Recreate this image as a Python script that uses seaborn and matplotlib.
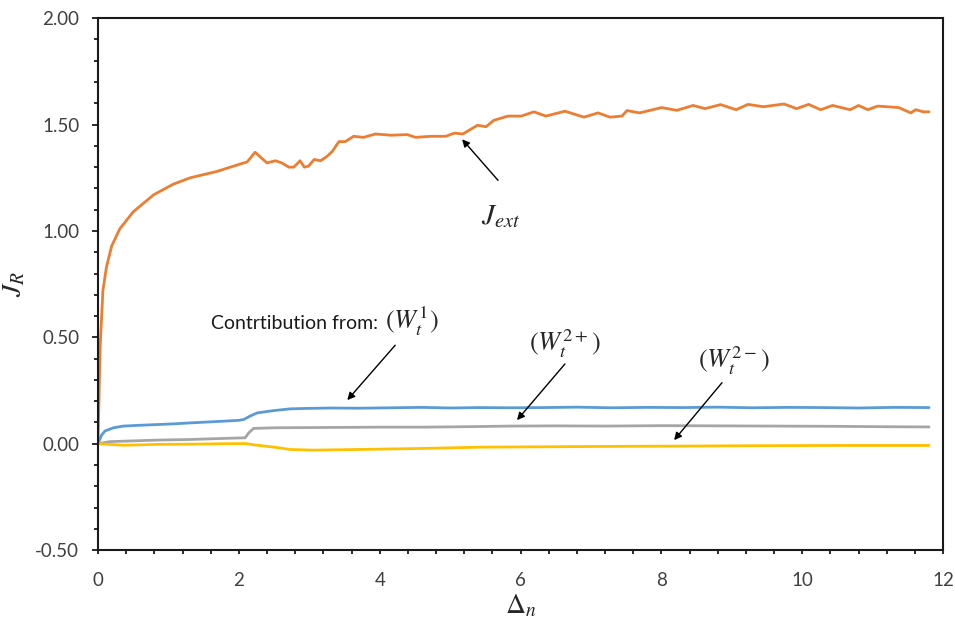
import matplotlib
matplotlib.use("Agg")
import matplotlib.pyplot as plt
import seaborn as sns
import pandas as pd
from matplotlib.ticker import MultipleLocator, FormatStrFormatter

# ---------------- data ----------------
jext_x = [0, 0.03, 0.07, 0.12, 0.195, 0.31, 0.50, 0.79, 1.07, 1.31,
          1.69, 1.88, 2.12, 2.23, 2.40, 2.52, 2.61, 2.71, 2.78, 2.87,
          2.93, 2.99, 3.07, 3.16, 3.25, 3.33, 3.42, 3.51, 3.63, 3.77,
          3.94, 4.16, 4.39, 4.51, 4.73, 4.94, 5.06, 5.18, 5.39, 5.51,
          5.62, 5.82, 6.01, 6.19, 6.36, 6.63, 6.90, 7.10, 7.27, 7.44,
          7.51, 7.69, 8.00, 8.22, 8.45, 8.62, 8.84, 9.06, 9.23, 9.45,
          9.74, 9.92, 10.09, 10.26, 10.43, 10.68, 10.80, 10.93, 11.07, 11.37,
          11.54, 11.61, 11.72, 11.80]
jext_y = [0, 0.45, 0.72, 0.83, 0.93, 1.01, 1.09, 1.17, 1.22, 1.25,
          1.28, 1.30, 1.325, 1.37, 1.32, 1.33, 1.32, 1.30, 1.30, 1.33,
          1.30, 1.305, 1.336, 1.33, 1.35, 1.375, 1.42, 1.42, 1.445, 1.44,
          1.456, 1.45, 1.453, 1.44, 1.445, 1.445, 1.46, 1.456, 1.497, 1.49,
          1.52, 1.54, 1.54, 1.56, 1.54, 1.563, 1.535, 1.555, 1.535, 1.54,
          1.566, 1.555, 1.58, 1.567, 1.59, 1.575, 1.594, 1.57, 1.595, 1.584,
          1.597, 1.575, 1.595, 1.57, 1.59, 1.57, 1.59, 1.57, 1.587, 1.58,
          1.555, 1.57, 1.56, 1.56]

w1_x = [0, 0.05, 0.1, 0.22, 0.36, 0.6, 0.83, 1.1, 1.31, 1.55,
        1.78, 2.0, 2.07, 2.16, 2.26, 2.5, 2.73, 2.97, 3.3, 3.7,
        4.16, 4.6, 5.0, 5.4, 5.86, 6.3, 6.8, 7.3, 7.8, 8.3,
        8.8, 9.3, 9.8, 10.3, 10.8, 11.3, 11.8]
w1_y = [0, 0.04, 0.06, 0.075, 0.083, 0.087, 0.09, 0.094, 0.098, 0.102,
        0.106, 0.11, 0.114, 0.13, 0.145, 0.156, 0.164, 0.166, 0.168, 0.167,
        0.169, 0.171, 0.168, 0.170, 0.169, 0.170, 0.172, 0.169, 0.171, 0.170,
        0.172, 0.169, 0.171, 0.170, 0.168, 0.171, 0.170]

w2p_x = [0, 0.17, 0.36, 0.83, 1.31, 1.78, 2.09, 2.14, 2.21, 2.5,
         3.0, 3.5, 4.0, 4.63, 5.2, 5.86, 6.5, 7.2, 8.0, 8.8,
         9.6, 10.4, 11.2, 11.8]
w2p_y = [0, 0.01, 0.012, 0.017, 0.02, 0.025, 0.028, 0.051, 0.072, 0.075,
         0.076, 0.077, 0.078, 0.078, 0.080, 0.083, 0.084, 0.083, 0.085, 0.084,
         0.083, 0.082, 0.080, 0.079]

w2m_x = [0, 0.36, 0.83, 1.3, 1.78, 2.09, 2.26, 2.5, 2.73, 3.06,
         3.68, 4.63, 5.44, 6.5, 7.5, 8.28, 9.5, 10.5, 11.8]
w2m_y = [0, -0.007, -0.003, -0.002, 0.0, 0.001, -0.007, -0.016, -0.027, -0.03,
         -0.027, -0.022, -0.016, -0.014, -0.012, -0.011, -0.009, -0.008, -0.008]

series_names = ["Jext", "W1", "W2+", "W2-"]
series_colors = ["#ED7D31", "#5B9BD5", "#A5A5A5", "#FFC000"]

x_ticks = [0, 2, 4, 6, 8, 10, 12]
y_ticks = [-0.5, 0.0, 0.5, 1.0, 1.5, 2.0]

# ---------------- build frame ----------------
frames = []
for name, xs, ys in zip(series_names,
                        [jext_x, w1_x, w2p_x, w2m_x],
                        [jext_y, w1_y, w2p_y, w2m_y]):
    frames.append(pd.DataFrame({"x": xs, "y": ys, "s": name}))
df = pd.concat(frames, ignore_index=True)

sns.set_style("ticks")
plt.rcParams["font.family"] = ["Lato", "DejaVu Sans"]
plt.rcParams["mathtext.fontset"] = "stix"

fig = plt.figure(figsize=(9.55, 6.28), dpi=100)
ax = fig.add_axes([0.1026, 0.124, 0.885, 0.847])

sns.lineplot(data=df, x="x", y="y", hue="s", hue_order=series_names,
             palette=dict(zip(series_names, series_colors)),
             sort=False, estimator=None, linewidth=2.0, legend=False, ax=ax)

ax.set_xlim(0, 12)
ax.set_ylim(-0.5, 2.0)
ax.set_xticks(x_ticks)
ax.set_yticks(y_ticks)
ax.xaxis.set_minor_locator(MultipleLocator(0.4))
ax.yaxis.set_minor_locator(MultipleLocator(0.1))
ax.yaxis.set_major_formatter(FormatStrFormatter("%.2f"))

for sp in ax.spines.values():
    sp.set_visible(True)
    sp.set_linewidth(1.5)
    sp.set_color("#1a1a1a")

ax.tick_params(axis="y", which="major", direction="out", length=4.5, width=1.3,
               labelsize=13.5, pad=9, colors="#1a1a1a", labelcolor="#404040")
ax.tick_params(axis="y", which="minor", direction="out", length=3, width=1.3,
               colors="#1a1a1a")
ax.tick_params(axis="x", which="both", direction="out", length=3, width=1.3,
               colors="#1a1a1a")
ax.tick_params(axis="x", which="major", labelsize=13.5, pad=13, labelcolor="#404040")

ax.set_xlabel(r"$\Delta_n$", fontsize=20, labelpad=2)
ax.set_ylabel(r"$J_R$", fontsize=20, labelpad=6)

arrow_kw = dict(arrowstyle="-|>", color="black", lw=1.0, mutation_scale=11,
                shrinkA=0, shrinkB=0)

ax.annotate("", xy=(5.17, 1.431), xytext=(5.68, 1.238), arrowprops=arrow_kw)
ax.text(5.71, 1.07, r"$J_{ext}$", fontsize=21, ha="center", va="center")

ax.text(1.605, 0.567, "Contrtibution from:", fontsize=14, ha="left", va="center",
        color="#1a1a1a")
ax.text(4.07, 0.575, r"$(W_t^{1})$", fontsize=19, ha="left", va="center")
ax.annotate("", xy=(3.54, 0.205), xytext=(4.22, 0.463), arrowprops=arrow_kw)

ax.text(6.63, 0.47, r"$(W_t^{2+})$", fontsize=19, ha="center", va="center")
ax.annotate("", xy=(5.95, 0.111), xytext=(6.63, 0.375), arrowprops=arrow_kw)

ax.text(9.03, 0.393, r"$(W_t^{2-})$", fontsize=19, ha="center", va="center")
ax.annotate("", xy=(8.18, 0.017), xytext=(8.86, 0.287), arrowprops=arrow_kw)

fig.savefig("out.png", dpi=100)
